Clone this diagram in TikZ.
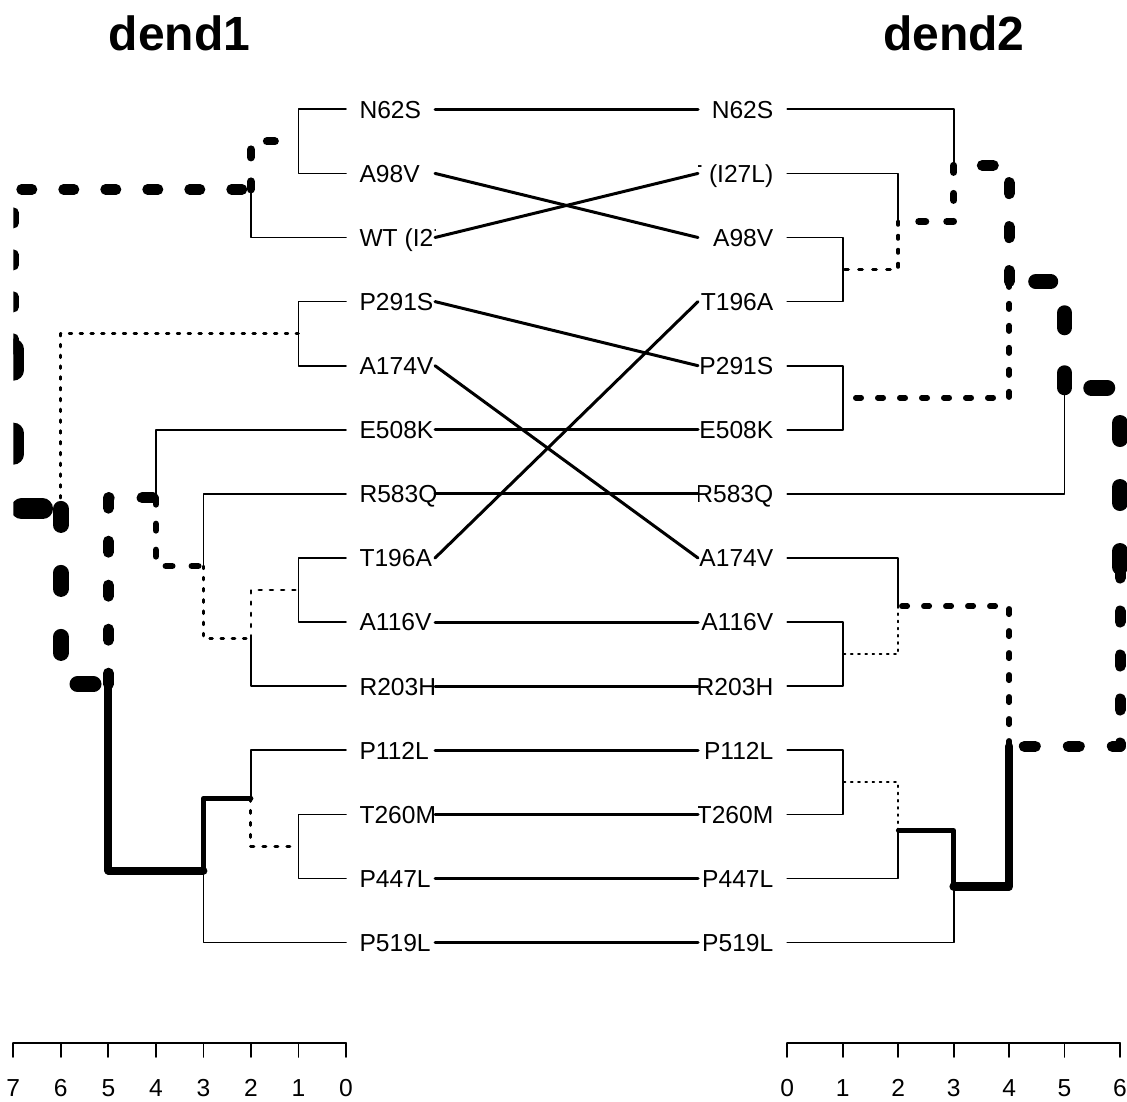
\documentclass[tikz,border=0pt]{standalone}
\usepackage{fontspec}
\setmainfont{Liberation Sans}
\begin{document}
\begin{tikzpicture}[x=1pt,y=-1pt,
  leafedge/.style={line width=1.7pt, line cap=round, line join=round},
  solidw/.style={line width=#1pt, line cap=round, line join=round},
  dotw/.code={\pgfmathsetmacro\dwoff{3*#1}\edef\dwtmp{line width=#1pt, line cap=round, line join=round, dash pattern=on #1pt off \dwoff pt}\expandafter\pgfkeysalso\expandafter{\dwtmp}},
  link/.style={line width=3pt, line cap=round},
  lab/.style={font=\fontsize{24.6}{29}\selectfont, inner sep=0pt},
  ttl/.style={font=\fontsize{48}{56}\selectfont\bfseries, inner sep=0pt, anchor=base},
  axl/.style={line width=1.8pt, line cap=round},
  axn/.style={font=\fontsize{24.6}{29}\selectfont, inner sep=0pt, anchor=base}]
\useasboundingbox (0,0) rectangle (1127,1101);

% leaf rows
\foreach \i/\yy in {0/109.3,1/173.4,2/237.5,3/301.6,4/365.7,5/429.8,6/493.9,7/558.0,8/622.1,9/686.2,10/750.3,11/814.4,12/878.5,13/942.6}{
  \coordinate (l\i) at (346,\yy);
  \coordinate (r\i) at (787.3,\yy);
  \coordinate (cl\i) at (435,\yy);
  \coordinate (cr\i) at (698,\yy);
}

% titles
\node[ttl] (t1) at (179.6,50) {dend1};
\node[ttl] (t2) at (953.7,50) {dend2};

% left labels
\begin{scope}
\clip (300,60) rectangle (435,1000);
\foreach \i/\yy/\t in {0/109.3/N62S,1/173.4/A98V,2/237.5/WT (I27L),3/301.6/P291S,4/365.7/A174V,5/429.8/E508K,6/493.9/R583Q,7/558.0/T196A,8/622.1/A116V,9/686.2/R203H,10/750.3/P112L,11/814.4/T260M,12/878.5/P447L,13/942.6/P519L}
  \node[lab, anchor=base west] (nl\i) at (359.3,\yy+8.8) {\t};
\end{scope}
% right labels
\begin{scope}
\clip (698,60) rectangle (790,1000);
\foreach \i/\yy/\t in {0/109.3/N62S,1/173.4/WT (I27L),2/237.5/A98V,3/301.6/T196A,4/365.7/P291S,5/429.8/E508K,6/493.9/R583Q,7/558.0/A174V,8/622.1/A116V,9/686.2/R203H,10/750.3/P112L,11/814.4/T260M,12/878.5/P447L,13/942.6/P519L}
  \node[lab, anchor=base east] (nr\i) at (773.5,\yy+8.8) {\t};
\end{scope}

% connecting lines
\foreach \a/\b in {0/0,1/2,2/1,3/4,4/7,5/5,6/6,7/3,8/8,9/9,10/10,11/11,12/12,13/13}
  \draw[link] (cl\a) -- (cr\b);

% left dendrogram
\begin{scope}
\clip (13.3,60) rectangle (360,1000);
\coordinate (lA) at (298.5,141.35);
\coordinate (lB) at (250.9,189.4);
\coordinate (lC) at (298.5,333.65);
\coordinate (lD) at (298.5,590.05);
\coordinate (lE) at (250.9,638.1);
\coordinate (lF) at (203.4,566.0);
\coordinate (lG) at (155.9,497.9);
\coordinate (lI) at (298.5,846.45);
\coordinate (lJ) at (250.9,798.4);
\coordinate (lK) at (203.4,870.5);
\coordinate (lL) at (108.4,684.2);
\coordinate (lM) at (60.8,508.9);
\coordinate (lR) at (13.3,349.15);
\draw[leafedge] (lA) |- (l0);
\draw[leafedge] (lA) |- (l1);
\draw[leafedge] (lB) |- (l2);
\draw[leafedge] (lC) |- (l3);
\draw[leafedge] (lC) |- (l4);
\draw[leafedge] (lG) |- (l5);
\draw[leafedge] (lF) |- (l6);
\draw[leafedge] (lD) |- (l7);
\draw[leafedge] (lD) |- (l8);
\draw[leafedge] (lE) |- (l9);
\draw[leafedge] (lJ) |- (l10);
\draw[leafedge] (lI) |- (l11);
\draw[leafedge] (lI) |- (l12);
\draw[leafedge] (lK) |- (l13);
\draw[dotw=8] (lB) |- (lA);
\draw[dotw=2.8] (lE) |- (lD);
\draw[dotw=2.8] (lF) |- (lE);
\draw[dotw=6.5] (lG) |- (lF);
\draw[dotw=3] (lJ) |- (lI);
\draw[solidw=5] (lK) |- (lJ);
\draw[dotw=11] (lL) |- (lG);
\draw[solidw=8] (lL) |- (lK);
\draw[dotw=2.7] (lM) |- (lC);
\draw[dotw=16] (lM) |- (lL);
\draw[dotw=10.5] (lR) |- (lB);
\draw[dotw=21] (lR) |- (lM);
\end{scope}

% right dendrogram
\coordinate (ra) at (842.75,269.55);
\coordinate (rb) at (898.2,221.5);
\coordinate (rc) at (953.65,165.4);
\coordinate (rd) at (842.75,397.75);
\coordinate (re) at (1009.1,281.6);
\coordinate (rf) at (1064.55,387.75);
\coordinate (rg) at (842.75,654.15);
\coordinate (rh) at (898.2,606.1);
\coordinate (ri) at (842.75,782.35);
\coordinate (rj) at (898.2,830.4);
\coordinate (rk) at (953.65,886.5);
\coordinate (rl) at (1009.1,746.3);
\coordinate (rm) at (1120,567.0);
\draw[leafedge] (rc) |- (r0);
\draw[leafedge] (rb) |- (r1);
\draw[leafedge] (ra) |- (r2);
\draw[leafedge] (ra) |- (r3);
\draw[leafedge] (rd) |- (r4);
\draw[leafedge] (rd) |- (r5);
\draw[leafedge] (rf) |- (r6);
\draw[leafedge] (rh) |- (r7);
\draw[leafedge] (rg) |- (r8);
\draw[leafedge] (rg) |- (r9);
\draw[leafedge] (ri) |- (r10);
\draw[leafedge] (ri) |- (r11);
\draw[leafedge] (rj) |- (r12);
\draw[leafedge] (rk) |- (r13);
\draw[dotw=3.5] (rb) |- (ra);
\draw[dotw=7] (rc) |- (rb);
\draw[dotw=11] (re) |- (rc);
\draw[dotw=5.5] (re) |- (rd);
\draw[dotw=15] (rf) |- (re);
\draw[dotw=1.8] (rh) |- (rg);
\draw[dotw=1.8] (rj) |- (ri);
\draw[solidw=4.5] (rk) |- (rj);
\draw[dotw=5.5] (rl) |- (rh);
\draw[solidw=8.5] (rl) |- (rk);
\draw[dotw=16] (rm) |- (rf);
\draw[dotw=11] (rm) |- (rl);

% axes
\draw[axl] (13.3,1043) -- (346,1043);
\foreach \h in {0,...,7}{
  \draw[axl] (346-47.53*\h,1043) -- (346-47.53*\h,1057);
  \node[axn] (al\h) at (346-47.53*\h,1096) {\h};
}
\draw[axl] (787.3,1043) -- (1120,1043);
\foreach \h in {0,...,6}{
  \draw[axl] (787.3+55.45*\h,1043) -- (787.3+55.45*\h,1057);
  \node[axn] (ar\h) at (787.3+55.45*\h,1096) {\h};
}
\end{tikzpicture}
\end{document}
